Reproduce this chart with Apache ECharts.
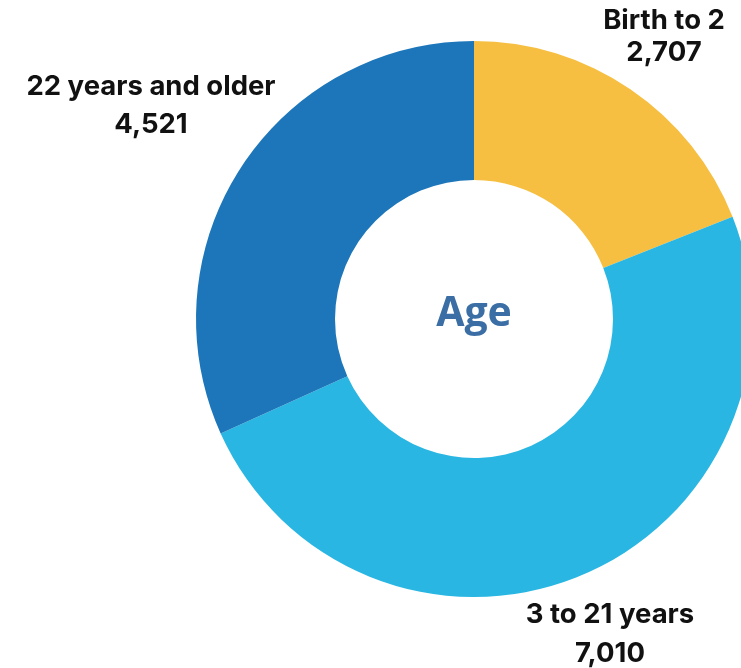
<!DOCTYPE html>
<html>
<head>
<meta charset="utf-8">
<script src="https://cdn.jsdelivr.net/npm/echarts@6/dist/echarts.min.js"></script>
<style>
    html, body { margin: 0; padding: 0; background: #fff; }
    #chart { width: 741px; height: 668px; }
</style>
</head>
<body>
<div id="chart"></div>
<script>
    // age groups, in clockwise order from 12 o'clock
    var categories = ['Birth to 2', '3 to 21 years', '22 years and older'];
    var values = [2707, 7010, 4521];
    var colors = ['#F6BF42', '#2AB6E2', '#1C76B9'];

    // where each label sits (centre of the text block)
    var labelPos = [
        {x: 664, y: 37, lh: 32},
        {x: 610, y: 634, lh: 39},
        {x: 151, y: 106, lh: 38}
    ];

    var chart = echarts.init(document.getElementById('chart'));
    chart.setOption({
        animation: false,
        graphic: [{
            type: 'text',
            x: 474,
            y: 314,
            style: {
                text: 'Age',
                fontFamily: 'Open Sans',
                fontWeight: 'bold',
                fontSize: 41,
                fill: '#3A6EA4',
                align: 'center',
                verticalAlign: 'middle'
            }
        }],
        series: [{
            type: 'pie',
            center: [474, 319],
            radius: [139, 278],
            startAngle: 90,
            clockwise: true,
            avoidLabelOverlap: false,
            labelLine: {show: false},
            label: {
                show: true,
                position: 'outside',
                color: '#111',
                fontFamily: 'Inter',
                fontWeight: 'bold',
                fontSize: 27.5,
                align: 'center',
                formatter: function (p) {
                    return p.name + '\n' + p.value.toLocaleString('en-US');
                }
            },
            labelLayout: function (p) {
                var pos = labelPos[p.dataIndex];
                return {
                    x: pos.x,
                    y: pos.y,
                    align: 'center',
                    verticalAlign: 'middle'
                };
            },
            data: categories.map(function (c, i) {
                return {
                    name: c,
                    value: values[i],
                    itemStyle: {color: colors[i]},
                    label: {lineHeight: labelPos[i].lh}
                };
            })
        }]
    });
</script>
</body>
</html>
